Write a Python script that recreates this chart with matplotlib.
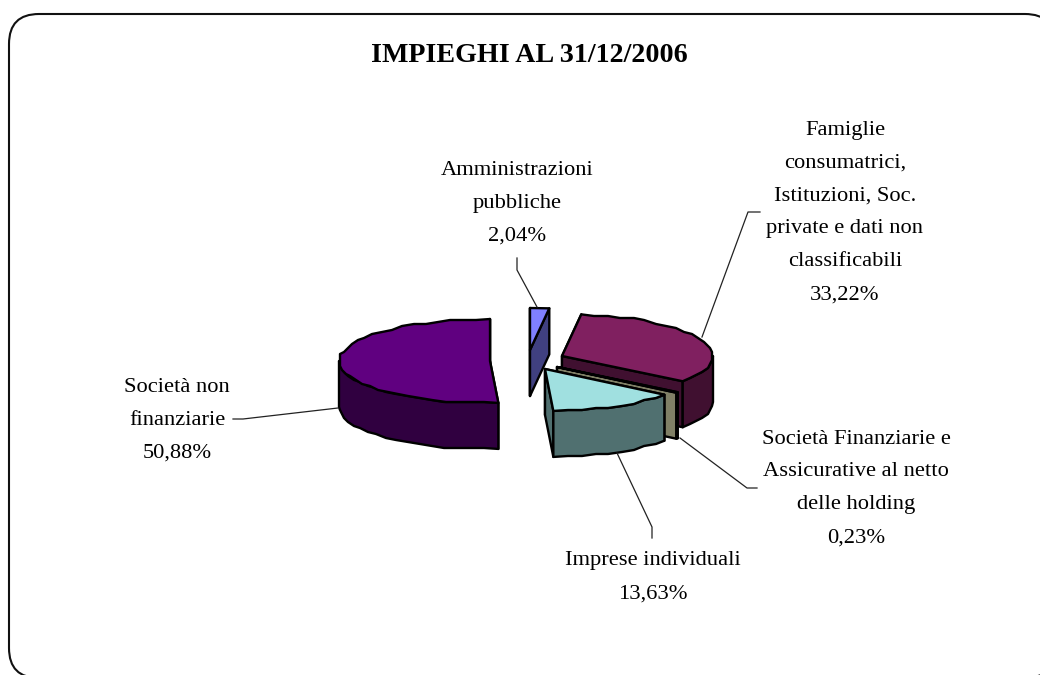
import matplotlib
matplotlib.use('Agg')
import matplotlib.pyplot as plt
from matplotlib.patches import FancyBboxPatch, Polygon
import numpy as np

plt.rcParams['font.family'] = ['Liberation Serif', 'DejaVu Serif']

title = "IMPIEGHI AL 31/12/2006"

# slices, clockwise from 12 o'clock
categories = [
    "Amministrazioni\npubbliche",
    "Famiglie\nconsumatrici,\nIstituzioni, Soc.\nprivate e dati non\nclassificabili",
    "Società Finanziarie e\nAssicurative al netto\ndelle holding",
    "Imprese individuali",
    "Società non\nfinanziarie",
]
values = [2.04, 33.22, 0.23, 13.63, 50.88]
value_labels = ["2,04%", "33,22%", "0,23%", "13,63%", "50,88%"]

top_colors = ['#8080FF', '#802060', '#FFFFCC', '#A0E0E0', '#600080']
side_colors = ['#404080', '#401030', '#808066', '#507070', '#300040']

# layout, in pixels
centers = [(530, 350), (562, 356), (557, 367), (545, 369), (490, 361)]
label_pos = [(517, 202), (845, 211), (856, 487), (653, 576), (177, 419)]
leaders = [
    [(517, 258), (517, 270), (537, 307)],
    [(702, 337), (748, 212), (760, 212)],
    [(680, 438), (747, 488), (757, 488)],
    [(617, 453), (652, 527), (652, 538)],
    [(233, 419), (243, 419), (338, 408)],
]
RX, RY, DEPTH = 151, 42, 46
LINE_STEP = 33


def rim(cx, cy, a0, a1, grid=2):
    # arc points, snapped to a coarse grid to get the jagged look of the original
    n = max(2, int(abs(a1 - a0) / 5) + 1)
    t = np.radians(np.linspace(a0, a1, n))
    x = cx + RX * np.sin(t)
    y = cy - RY * np.cos(t)
    x[1:-1] = np.round(x[1:-1] / grid) * grid
    y[1:-1] = np.round(y[1:-1] / grid) * grid
    return np.column_stack((x, y))


def draw_slice(ax, center, a0, a1, top, side):
    cx, cy = center
    down = np.array([0, DEPTH])
    edge = dict(edgecolor='black', linewidth=1.7, joinstyle='round')

    # radial cut faces
    for a in (a0, a1):
        p = rim(cx, cy, a, a)[0]
        c = np.array(center, dtype=float)
        ax.add_patch(Polygon([c, p, p + down, c + down], facecolor=side, **edge))

    # outer wall, only the front half of the ellipse can be seen
    lo, hi = max(a0, 90), min(a1, 270)
    if hi > lo:
        arc = rim(cx, cy, lo, hi)
        ax.add_patch(Polygon(np.vstack((arc, arc[::-1] + down)), facecolor=side, **edge))

    # top face
    arc = rim(cx, cy, a0, a1)
    ax.add_patch(Polygon(np.vstack(([center], arc)), facecolor=top, **edge))


def main():
    fig = plt.figure(figsize=(10.4, 6.75), dpi=100)
    ax = fig.add_axes([0, 0, 1, 1])
    ax.set_xlim(0, 1040)
    ax.set_ylim(675, 0)
    ax.axis('off')

    # rounded frame, it runs off the right and bottom of the picture
    ax.add_patch(FancyBboxPatch((39, 44), 986, 604, boxstyle="round,pad=30,rounding_size=30",
                                facecolor='white', edgecolor='#111111', linewidth=1.5))

    ax.text(529.5, 55, title, fontsize=20.2, fontweight='bold', ha='center', va='center', color='black')

    angles = np.concatenate(([0], np.cumsum(values))) * 3.6
    for i in range(len(values)):
        draw_slice(ax, centers[i], angles[i], angles[i + 1], top_colors[i], side_colors[i])

    for pts in leaders:
        xs, ys = zip(*pts)
        ax.plot(xs, ys, color='#222222', linewidth=0.9)

    for i in range(len(values)):
        lines = categories[i].split("\n") + [value_labels[i]]
        x, y = label_pos[i]
        y0 = y - LINE_STEP * (len(lines) - 1) / 2
        for j, line in enumerate(lines):
            ax.text(x, y0 + j * LINE_STEP + 6, line, fontsize=16.2, ha='center', va='baseline', color='black')

    fig.savefig('out.png', dpi=100)


if __name__ == "__main__":
    main()
